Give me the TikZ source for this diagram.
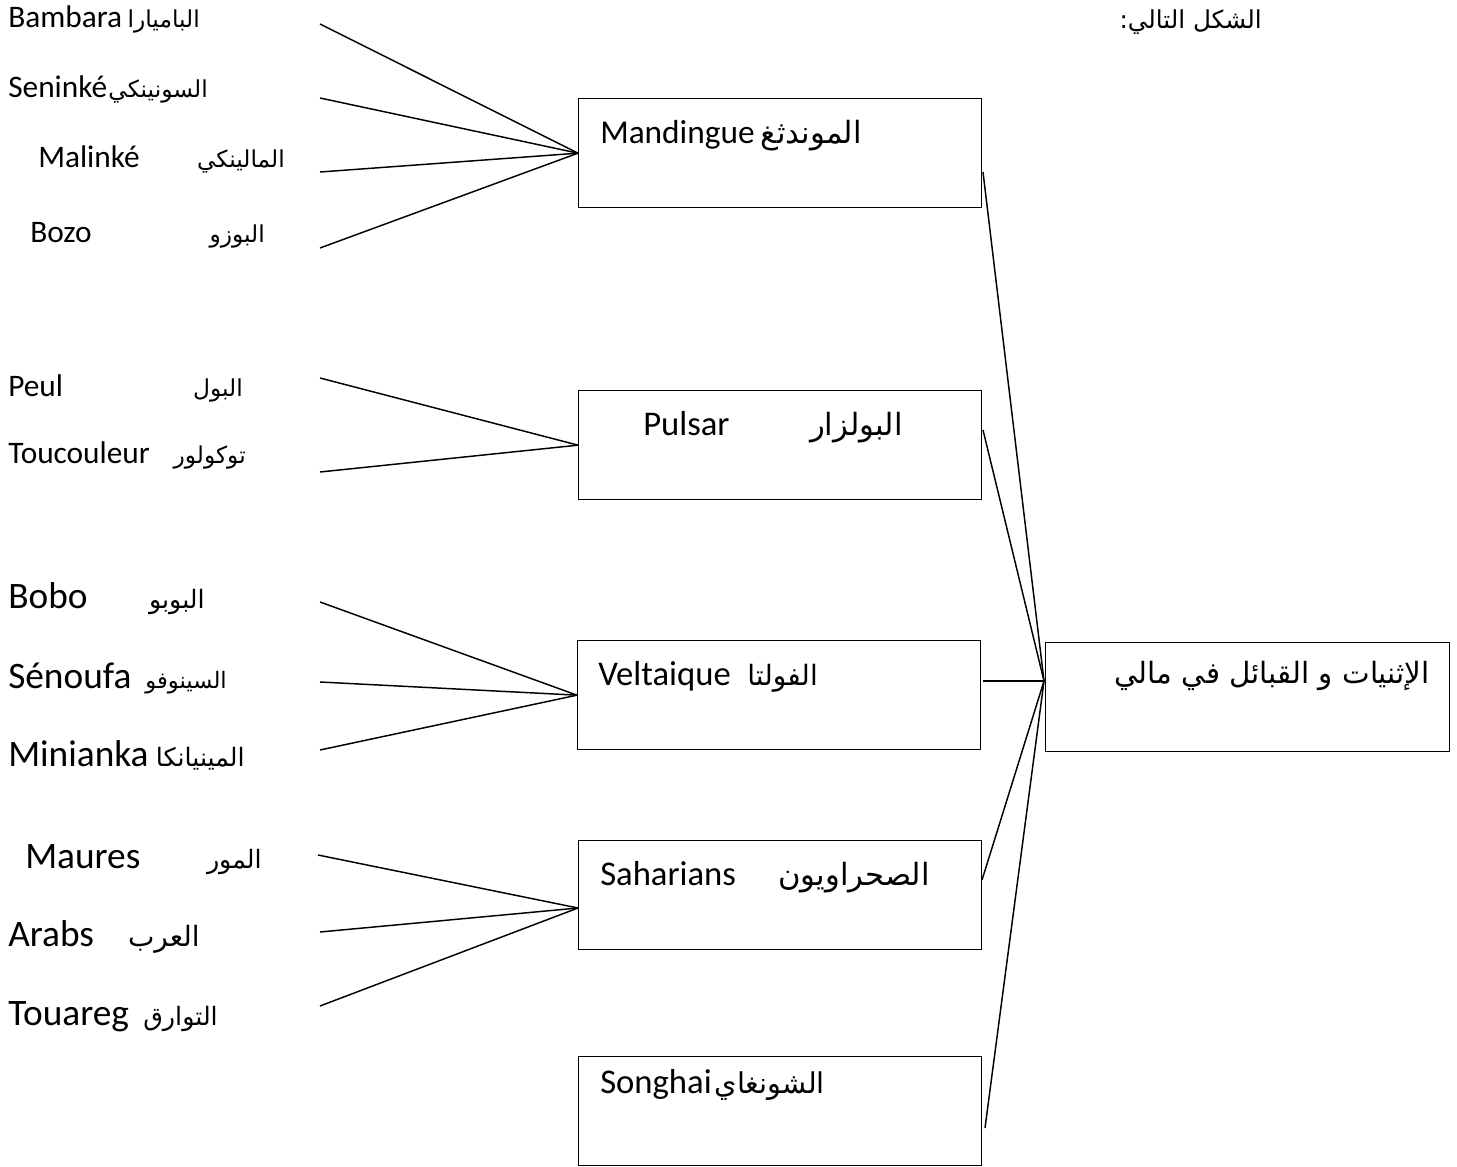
\documentclass[tikz,border=0pt]{standalone}
\usepackage{fontspec}
\setmainfont{Carlito}
\newfontfamily\ar[Script=Arabic]{DejaVu Sans}
\TeXXeTstate=1
\begin{document}
\begin{tikzpicture}[x=0.75pt,y=-0.75pt,
  box/.style={draw,line width=1pt,minimum width=302.25pt,minimum height=81.75pt,anchor=north west,inner sep=0pt},
  lat/.style={anchor=base west,inner sep=0pt},
  arr/.style={anchor=base east,inner sep=0pt},
  sm/.style={font=\fontsize{23.5}{27}\selectfont},
  bg/.style={font=\fontsize{28}{32}\selectfont},
  bx/.style={font=\fontsize{26}{30}\selectfont},
  mbx/.style={font=\fontsize{25}{29}\selectfont},
  asm/.style={font=\ar\fontsize{17.5}{21}\selectfont},
  abg/.style={font=\ar\fontsize{19}{23}\selectfont},
  abx/.style={font=\ar\fontsize{23}{27}\selectfont},
  conn/.style={line width=1.1pt}]
\useasboundingbox (0,0) rectangle (1457,1167);
% boxes
\node[box] (mand) at (578,98) {};
\node[box] (puls) at (578,390) {};
\node[box] (velt) at (577,640) {};
\node[box] (sah) at (578,840) {};
\node[box] (song) at (578,1056) {};
\node[box,minimum width=303pt] (mali) at (1045,642) {};
% box texts
\node[lat,mbx] (mandl) at (600,143) {Mandingue};
\node[arr,abx] (manda) at (862,143) {\beginR الموندثغ\endR};
\node[lat,bx] (pulsl) at (643,435) {Pulsar};
\node[arr,abx] (pulsa) at (903,435) {\beginR البولزار\endR};
\node[lat,bx] (veltl) at (598,685) {Veltaique};
\node[arr,font=\ar\fontsize{21}{25}\selectfont] (velta) at (818,685) {\beginR الفولتا\endR};
\node[lat,bx] (sahl) at (600,885) {Saharians};
\node[arr,abx] (saha) at (930,885) {\beginR الصحراويون\endR};
\node[lat,bx] (songl) at (600,1093) {Songhai};
\node[arr,font=\ar\fontsize{21.5}{25}\selectfont] (songa) at (825,1093) {\beginR الشونغاي\endR};
\node[arr,font=\ar\fontsize{22}{26}\selectfont] (malia) at (1430,683) {\beginR الإثنيات و القبائل في مالي\endR};
\node[arr,font=\ar\fontsize{18.5}{22}\selectfont] (title) at (1262,28) {\beginR الشكل التالي:\endR};
% left labels
\node[lat,sm] (t1l) at (8,27) {Bambara};
\node[arr,asm] (t1a) at (200,27) {\beginR الباميارا\endR};
\node[lat,sm] (t2l) at (8,97) {Seninké};
\node[arr,asm] (t2a) at (208,97) {\beginR السونينكي\endR};
\node[lat,sm] (t3l) at (38,167) {Malinké};
\node[arr,asm] (t3a) at (285,167) {\beginR المالينكي\endR};
\node[lat,sm] (t4l) at (30,242) {Bozo};
\node[arr,asm] (t4a) at (265,242) {\beginR البوزو\endR};
\node[lat,sm] (t5l) at (8,396) {Peul};
\node[arr,asm] (t5a) at (243,396) {\beginR البول\endR};
\node[lat,sm] (t6l) at (8,463) {Toucouleur};
\node[arr,asm] (t6a) at (246,463) {\beginR توكولور\endR};
\node[lat,bg] (t7l) at (8,608) {Bobo};
\node[arr,abg] (t7a) at (205,608) {\beginR البوبو\endR};
\node[lat,bg] (t8l) at (8,688) {Sénoufa};
\node[arr,font=\ar\fontsize{17}{21}\selectfont] (t8a) at (227,688) {\beginR السينوفو\endR};
\node[lat,bg] (t9l) at (8,766) {Minianka};
\node[arr,abg] (t9a) at (245,766) {\beginR المينيانكا\endR};
\node[lat,bg] (t10l) at (25,868) {Maures};
\node[arr,abg] (t10a) at (262,868) {\beginR المور\endR};
\node[lat,bg] (t11l) at (8,946) {Arabs};
\node[arr,font=\ar\fontsize{21}{25}\selectfont] (t11a) at (200,946) {\beginR العرب\endR};
\node[lat,bg] (t12l) at (8,1025) {Touareg};
\node[arr,abg] (t12a) at (218,1025) {\beginR التوارق\endR};
% free ends of connectors
\coordinate (e1) at (320,24);
\coordinate (e2) at (320,98);
\coordinate (e3) at (320,172);
\coordinate (e4) at (320,248);
\coordinate (e5) at (320,378);
\coordinate (e6) at (320,472);
\coordinate (e7) at (320,602);
\coordinate (e8) at (320,682);
\coordinate (e9) at (320,750);
\coordinate (e10) at (318,855);
\coordinate (e11) at (320,932);
\coordinate (e12) at (320,1006);
\coordinate (sahin) at (578,908);
\coordinate (hub) at (1044,681);
\coordinate (mo) at (983,172);
\coordinate (po) at (983,430);
\coordinate (vo) at (983,681);
\coordinate (so) at (982,880);
\coordinate (go) at (985,1128);
% connectors
\foreach \i in {1,2,3,4} \draw[conn] (e\i) -- (mand.west);
\foreach \i in {5,6} \draw[conn] (e\i) -- (puls.west);
\foreach \i in {7,8,9} \draw[conn] (e\i) -- (velt.west);
\foreach \i in {10,11,12} \draw[conn] (e\i) -- (sahin);
\foreach \s in {mo,po,vo,so,go} \draw[conn] (\s) -- (hub);
\end{tikzpicture}
\end{document}
